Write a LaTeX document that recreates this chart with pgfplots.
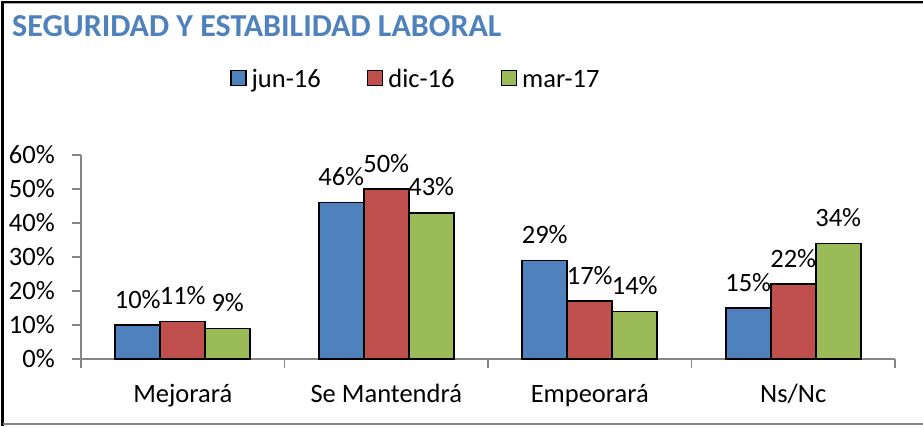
\documentclass[border=0pt]{standalone}
\usepackage{fontspec}
\setmainfont{Carlito}
\usepackage{pgfplots}
\pgfplotsset{compat=1.18}
\definecolor{cblue}{RGB}{79,129,189}
\definecolor{cred}{RGB}{192,80,77}
\definecolor{cgreen}{RGB}{155,187,89}
\definecolor{axgray}{RGB}{134,134,134}
\begin{document}
\begin{tikzpicture}[font=\fontsize{26.5}{31}\selectfont]
\useasboundingbox (-81pt,-67pt) rectangle (842pt,359pt);
\draw[line width=2.5pt] (-78.5pt,-67pt) -- (-78.5pt,357pt) -- (842pt,357pt);
\draw[axgray!70, line width=1pt] (-77pt,355pt) -- (842pt,355pt);
\draw[axgray, line width=1.5pt] (-78pt,-65pt) -- (842pt,-65pt);
\node[anchor=base west, text=cblue, font=\fontsize{32}{38}\selectfont\bfseries, inner sep=0pt] at (-69pt,322pt) {SEGURIDAD Y ESTABILIDAD LABORAL};
\begin{axis}[
  at={(0pt,0pt)}, anchor=south west,
  scale only axis, width=814pt, height=204pt,
  ybar=0pt, bar width=45pt,
  xmin=-0.5, xmax=3.5, ymin=0, ymax=60,
  axis lines*=left,
  axis line style={axgray, line width=1.2pt},
  xtick={-0.5,0.5,1.5,2.5,3.5}, xticklabels={,,,,},
  extra x ticks={0,1,2,3},
  extra x tick labels={Mejorará, Se Mantendrá, Empeorará, Ns/Nc},
  extra x tick style={major tick length=0pt, xticklabel style={anchor=base, yshift=-43pt, inner sep=0pt}},
  ytick={0,10,...,60}, yticklabels={0\%,10\%,20\%,30\%,40\%,50\%,60\%},
  tick align=outside, major tick length=9pt,
  tick style={axgray, line width=1.2pt},
  yticklabel style={anchor=east, inner sep=0pt, xshift=-17pt},
  /pgf/number format/assume math mode=true,
  nodes near coords={\pgfmathprintnumber{\pgfplotspointmeta}\%},
  every node near coord/.append style={anchor=base, inner sep=0pt, yshift=17pt, text=black},
  legend columns=3,
  legend style={draw=none, fill=none, at={(0.41,1.37)}, anchor=center,
    nodes={inner sep=0pt},
    /tikz/every odd column/.append style={column sep=5pt},
    /tikz/every even column/.append style={column sep=46pt}},
  legend image code/.code={\draw[#1] (0pt,-6pt) rectangle (15pt,9pt);},
]
\addplot[fill=cblue, draw=black, line width=1.6pt] coordinates {(0,10) (1,46) (2,29) (3,15)};
\addplot[fill=cred, draw=black, line width=1.6pt] coordinates {(0,11) (1,50) (2,17) (3,22)};
\addplot[fill=cgreen, draw=black, line width=1.6pt] coordinates {(0,9) (1,43) (2,14) (3,34)};
\legend{jun-16, dic-16, mar-17}
\end{axis}
\end{tikzpicture}
\end{document}
